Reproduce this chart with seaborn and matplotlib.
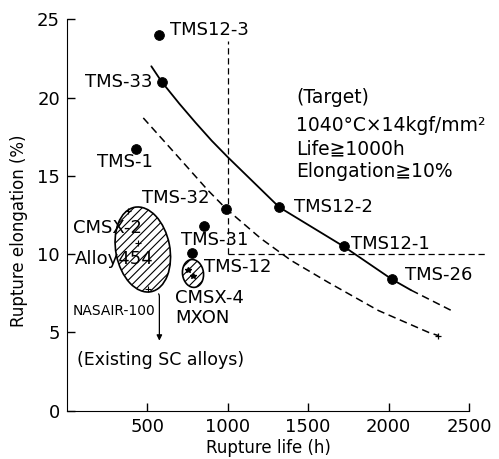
import matplotlib.pyplot as plt
import matplotlib.patches as mpatches
from matplotlib.transforms import ScaledTranslation
import pandas as pd
import seaborn as sns

# TMS alloys (filled dots)
alloy_names = ['TMS12-3', 'TMS-33', 'TMS-1', 'TMS-32', 'TMS-31', 'TMS-12',
               'TMS12-2', 'TMS12-1', 'TMS-26']
life_h = [570, 590, 430, 990, 850, 780, 1320, 1720, 2020]
elong_pct = [24.0, 21.0, 16.7, 12.9, 11.8, 10.1, 13.0, 10.5, 8.4]

# label placement for each alloy (text x, text y, alignment)
label_x = [640, 530, 363, 469, 712, 850, 1412, 1769, 2100]
label_y = [24.3, 21.0, 15.9, 13.6, 10.9, 9.2, 13.0, 10.65, 8.7]
label_ha = ['left', 'right', 'center', 'left', 'left', 'left', 'left', 'left', 'left']

# upper trend curve (solid) and its dashed extension
upper_life = [525, 590, 700, 800, 900, 1000, 1150, 1320, 1720, 2020, 2140]
upper_elong = [22.0, 21.0, 19.6, 18.4, 17.25, 16.2, 14.7, 13.0, 10.5, 8.4, 7.7]
upper_ext_life = [2140, 2410]
upper_ext_elong = [7.7, 6.3]

# lower dashed curve
lower_life = [475, 680, 875, 990, 1206, 1394, 1625, 1937, 2250, 2310]
lower_elong = [18.7, 16.35, 14.1, 12.9, 11.0, 9.6, 8.2, 6.4, 5.0, 4.8]

# target
target_life = 1000
target_elong = 10

# existing SC alloys
existing_life = [381, 444, 506]
existing_elong = [12.75, 10.7, 7.8]
cmsx4_life = [756, 781]
cmsx4_elong = [9.0, 8.6]

target_text = ['(Target)', '1040°C×14kgf/mm²', 'Life≧1000h', 'Elongation≧10%']
target_text_y = [20.0, 18.2, 16.75, 15.25]

sns.set_style('ticks')
plt.rcParams['font.family'] = ['DejaVu Sans', 'Noto Sans CJK JP']
plt.rcParams['hatch.linewidth'] = 0.8
for key in ['text.color', 'axes.labelcolor', 'xtick.color', 'ytick.color', 'axes.edgecolor']:
    plt.rcParams[key] = 'black'

fig, ax = plt.subplots(figsize=(4.99, 4.59), dpi=100)
fig.subplots_adjust(left=0.134, right=0.94, bottom=0.105, top=0.958)

dash = (0, (5, 3))
sns.lineplot(x=upper_life, y=upper_elong, sort=False, estimator=None,
             color='black', lw=1.3, ax=ax)
sns.lineplot(x=upper_ext_life, y=upper_ext_elong, sort=False, estimator=None,
             color='black', lw=1.1, linestyle=dash, ax=ax)
sns.lineplot(x=lower_life, y=lower_elong, sort=False, estimator=None,
             color='black', lw=1.1, linestyle=dash, ax=ax)

# target lines
ax.plot([target_life, target_life], [target_elong, 23.6], color='black',
        lw=0.9, linestyle=dash)
ax.plot([target_life, 2620], [target_elong, target_elong], color='black',
        lw=0.9, linestyle=dash, clip_on=False)

df = pd.DataFrame({'alloy': alloy_names, 'life': life_h, 'elong': elong_pct})
sns.scatterplot(data=df, x='life', y='elong', color='black', s=50,
                edgecolor='black', ax=ax, zorder=5)
ax.plot(lower_life[-1], lower_elong[-1], marker='+', color='black', ms=5, mew=0.9)

for name, tx, ty, ha in zip(alloy_names, label_x, label_y, label_ha):
    ax.text(tx, ty, name, fontsize=13, ha=ha, va='center')

# existing alloy regions
big = mpatches.Ellipse((0, 0), 0.54, 0.86, angle=11, fill=False, hatch='////',
                       ec='black', lw=1.2,
                       transform=fig.dpi_scale_trans + ScaledTranslation(472, 10.3, ax.transData))
small = mpatches.Ellipse((0, 0), 0.21, 0.28, angle=8, fill=False, hatch='////',
                         ec='black', lw=1.2,
                         transform=fig.dpi_scale_trans + ScaledTranslation(784, 8.77, ax.transData))
ax.add_patch(big)
ax.add_patch(small)
ax.plot(existing_life, existing_elong, '+', color='black', ms=4, mew=0.8)
ax.plot(cmsx4_life, cmsx4_elong, '*', color='black', ms=4)

ax.text(38, 11.7, 'CMSX-2', fontsize=13, va='center')
ax.text(50, 9.7, 'Alloy454', fontsize=13, va='center')
ax.text(38, 6.4, 'NASAIR-100', fontsize=10, va='center')
ax.text(675, 7.2, 'CMSX-4', fontsize=13, va='center')
ax.text(675, 5.9, 'MXON', fontsize=13, va='center')
ax.text(66, 3.25, '(Existing SC alloys)', fontsize=12.5, va='center')
ax.annotate('', xy=(575, 4.3), xytext=(555, 7.55),
            arrowprops=dict(arrowstyle='-|>', connectionstyle='angle,angleA=0,angleB=90,rad=4',
                            color='black', lw=0.9, mutation_scale=8))

for line, ty in zip(target_text, target_text_y):
    ax.text(1425, ty, line, fontsize=13.5, va='center', clip_on=False)

ax.set_xlim(0, 2500)
ax.set_ylim(0, 25)
ax.set_xticks([500, 1000, 1500, 2000, 2500])
ax.set_yticks([0, 5, 10, 15, 20, 25])
ax.tick_params(direction='in', length=6, width=1, labelsize=13, pad=5)
sns.despine(ax=ax)
ax.set_xlabel('Rupture life (h)', fontsize=12, labelpad=2)
ax.set_ylabel('Rupture elongation (%)', fontsize=12)
ax.yaxis.set_label_coords(-0.097, 0.46)

fig.savefig('out.png', dpi=100)
